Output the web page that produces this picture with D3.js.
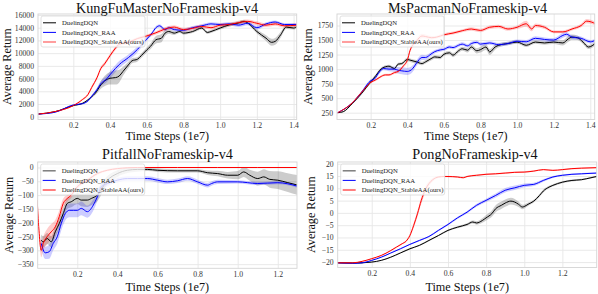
<!DOCTYPE html>
<html><head><meta charset="utf-8">
<script src="https://cdn.jsdelivr.net/npm/d3@7"></script>
<style>
body{margin:0;background:#fff;}
svg{display:block;}
text{font-family:"Liberation Serif","Times New Roman",serif;}
</style></head>
<body><svg id="c" width="598" height="294"></svg>
<script>
// ---------- DATA: each point is [time step (1e7), mean return, std] ----------
const seriesNames = ["DuelingDQN","DuelingDQN_RAA","DuelingDQN_StableAA(ours)"];
const xTicksTop = [0.2,0.4,0.6,0.8,1.0,1.2,1.4];
const xTicksBottom = [0.2,0.4,0.6,0.8,1.0,1.2];
const kungfuYTicks = [0,2000,4000,6000,8000,10000,12000,14000,16000];
const pacmanYTicks = [250,500,750,1000,1250,1500,1750];
const pitfallYTicks = [0,-50,-100,-150,-200,-250,-300,-350];
const pongYTicks = [20,15,10,5,0,-5,-10,-15,-20];

const kungfuDQN = [[0.01,420,40],[0.1,790,60],[0.2,1750,100],[0.25,2100,120],[0.3,3150,200],[0.32,3700,300],[0.35,5000,600],[0.37,5600,800],[0.4,6050,1000],[0.43,6150,1100],[0.45,6400,1000],[0.47,7100,700],[0.5,8150,500],[0.52,8800,400],[0.55,9050,350],[0.57,9600,350],[0.6,10500,400],[0.62,11050,450],[0.65,12100,600],[0.68,12350,650],[0.7,13150,500],[0.72,13400,350],[0.75,13150,300],[0.78,13400,250],[0.8,13150,250],[0.85,13400,250],[0.9,13950,250],[0.93,13250,250],[0.95,13400,250],[1.0,13950,250],[1.05,14450,250],[1.1,14750,250],[1.13,15000,250],[1.15,14750,250],[1.2,13400,300],[1.25,12350,450],[1.28,11700,550],[1.3,11850,550],[1.33,12900,450],[1.36,14100,300],[1.4,13950,250],[1.42,14200,250]];
const kungfuRAA = [[0.01,420,40],[0.1,700,60],[0.2,1850,100],[0.25,2050,120],[0.28,2500,150],[0.3,3200,200],[0.33,4300,300],[0.35,5200,400],[0.38,5900,500],[0.4,6600,550],[0.43,7600,550],[0.45,8200,550],[0.5,9300,500],[0.55,10600,450],[0.58,11600,350],[0.6,12200,300],[0.63,13200,250],[0.65,14000,250],[0.67,14300,250],[0.7,13700,250],[0.72,14000,250],[0.75,13700,250],[0.8,13600,250],[0.85,14000,250],[0.9,14300,250],[0.95,14600,250],[1.0,14500,250],[1.05,14600,250],[1.1,14400,300],[1.15,14700,300],[1.2,14000,300],[1.25,14600,250],[1.3,14900,250],[1.35,14500,250],[1.42,14500,250]];
const kungfuStable = [[0.01,420,40],[0.1,800,60],[0.2,1750,100],[0.25,2700,150],[0.28,3500,200],[0.3,4600,250],[0.33,6200,300],[0.35,7600,300],[0.37,8300,300],[0.4,9600,300],[0.43,10800,300],[0.45,11400,300],[0.5,11700,250],[0.55,12300,250],[0.6,12700,250],[0.65,13200,250],[0.7,13800,300],[0.75,14100,300],[0.8,13700,300],[0.85,13900,300],[0.9,14200,300],[0.95,14000,300],[1.0,14400,300],[1.05,14500,300],[1.1,14800,300],[1.15,15000,300],[1.2,14700,300],[1.25,14400,300],[1.3,14600,300],[1.35,14300,300],[1.42,14400,300]];

const pacmanDQN = [[0.02,250,5],[0.05,267,8],[0.1,410,15],[0.15,580,20],[0.2,780,25],[0.23,895,25],[0.25,980,25],[0.28,1040,25],[0.3,1050,25],[0.33,1010,25],[0.35,1085,25],[0.37,1095,25],[0.4,1165,30],[0.42,1150,30],[0.45,1125,30],[0.48,1095,30],[0.5,1125,30],[0.53,1180,30],[0.55,1210,30],[0.58,1200,30],[0.6,1255,30],[0.63,1280,30],[0.65,1240,35],[0.68,1315,35],[0.7,1350,35],[0.73,1325,40],[0.75,1380,40],[0.78,1315,45],[0.8,1335,50],[0.83,1380,50],[0.85,1295,50],[0.88,1380,45],[0.9,1410,35],[0.95,1440,30],[1.0,1465,30],[1.05,1410,30],[1.1,1465,30],[1.15,1450,30],[1.2,1465,35],[1.25,1450,45],[1.28,1520,50],[1.3,1550,45],[1.33,1540,40],[1.36,1465,35],[1.39,1380,35],[1.43,1450,30]];
const pacmanRAA = [[0.02,250,5],[0.1,420,15],[0.15,600,20],[0.2,800,25],[0.22,830,25],[0.25,960,30],[0.27,1010,30],[0.3,1000,35],[0.33,1000,45],[0.35,980,55],[0.37,970,60],[0.4,960,60],[0.43,1010,55],[0.45,1100,50],[0.48,1200,45],[0.5,1200,40],[0.53,1260,35],[0.55,1300,30],[0.58,1330,30],[0.6,1340,30],[0.63,1380,30],[0.65,1370,30],[0.68,1410,30],[0.7,1430,30],[0.73,1400,30],[0.75,1440,30],[0.78,1460,30],[0.8,1430,30],[0.85,1450,30],[0.9,1420,30],[0.95,1440,30],[1.0,1480,30],[1.05,1470,30],[1.1,1530,35],[1.15,1510,35],[1.2,1500,35],[1.25,1580,40],[1.27,1600,40],[1.3,1550,35],[1.35,1530,30],[1.4,1470,30],[1.43,1500,30]];
const pacmanStable = [[0.02,250,5],[0.1,420,15],[0.15,600,20],[0.2,770,20],[0.23,820,20],[0.25,860,20],[0.28,900,20],[0.3,900,20],[0.33,940,25],[0.35,960,25],[0.38,1060,25],[0.4,1150,30],[0.415,1320,35],[0.45,1480,40],[0.48,1570,40],[0.5,1560,35],[0.533,1540,30],[0.56,1550,25],[0.6,1590,25],[0.65,1620,25],[0.7,1660,25],[0.75,1690,30],[0.8,1665,30],[0.85,1720,30],[0.9,1735,30],[0.95,1690,30],[1.0,1720,30],[1.05,1780,50],[1.08,1690,40],[1.1,1750,35],[1.15,1720,30],[1.2,1640,25],[1.25,1640,25],[1.3,1690,25],[1.35,1750,30],[1.38,1825,35],[1.43,1780,30]];

const pitfallDQN = [[0.02,-263,20],[0.03,-269,20],[0.05,-257,20],[0.07,-269,20],[0.09,-233,20],[0.11,-203,20],[0.13,-167,20],[0.15,-130,20],[0.17,-124,20],[0.2,-112,20],[0.22,-118,22],[0.25,-118,25],[0.27,-112,25],[0.3,-100,22],[0.35,-46,15],[0.4,-22,12],[0.45,-10,10],[0.5,-7,8],[0.55,-7,6],[0.6,-10,6],[0.7,-12,6],[0.8,-12,6],[0.85,-19,8],[0.9,-22,10],[0.95,-28,12],[1.0,-28,15],[1.03,-16,18],[1.06,-28,20],[1.1,-40,25],[1.13,-34,28],[1.16,-43,30],[1.2,-46,32],[1.25,-55,34],[1.3,-64,36]];
const pitfallRAA = [[0.02,-275,20],[0.04,-309,22],[0.06,-305,25],[0.08,-275,25],[0.1,-251,25],[0.12,-203,25],[0.14,-167,25],[0.16,-155,25],[0.18,-155,25],[0.2,-155,25],[0.22,-148,25],[0.25,-160,22],[0.28,-136,20],[0.3,-106,15],[0.32,-70,12],[0.35,-58,10],[0.4,-46,8],[0.45,-40,8],[0.5,-40,8],[0.55,-40,8],[0.6,-46,8],[0.65,-52,8],[0.7,-48,8],[0.75,-40,8],[0.8,-52,8],[0.85,-64,8],[0.87,-58,8],[0.9,-52,8],[1.0,-52,6],[1.1,-58,6],[1.2,-55,6],[1.3,-68,6]];
const pitfallStable = [[0.0,-118,10],[0.01,-239,20],[0.02,-300,25],[0.03,-275,25],[0.05,-250,28],[0.07,-233,28],[0.09,-215,25],[0.11,-178,22],[0.13,-130,18],[0.15,-112,12],[0.17,-100,10],[0.2,-70,8],[0.25,-46,6],[0.3,-22,5],[0.35,-10,4],[0.4,-4,3],[0.45,-1,2],[0.5,0,1],[0.7,0,1],[0.9,0,1],[1.1,0,1],[1.3,0,1]];

const pongDQN = [[0.02,-20.3,0.2],[0.1,-20.4,0.2],[0.2,-20.0,0.2],[0.25,-19.3,0.2],[0.3,-18.0,0.2],[0.35,-16.3,0.25],[0.4,-14.6,0.3],[0.45,-13.2,0.3],[0.5,-11.2,0.3],[0.55,-9.2,0.3],[0.6,-7.1,0.35],[0.65,-5.8,0.4],[0.7,-4.7,0.5],[0.73,-3.7,0.6],[0.75,-4.1,0.7],[0.78,-3.1,0.9],[0.8,-2.0,1.1],[0.83,-0.3,1.3],[0.85,1.7,1.4],[0.88,3.1,1.5],[0.9,4.0,1.5],[0.93,4.8,1.4],[0.95,4.4,1.3],[0.97,3.5,1.1],[0.99,2.4,0.9],[1.0,2.6,0.8],[1.02,3.5,0.7],[1.05,4.8,0.6],[1.08,7.1,0.6],[1.1,8.9,0.6],[1.13,10.5,0.5],[1.15,11.2,0.5],[1.2,12.5,0.4],[1.25,13.2,0.4],[1.3,13.5,0.35],[1.35,14.3,0.3],[1.38,14.8,0.3]];
const pongRAA = [[0.02,-20.3,0.2],[0.1,-20.5,0.2],[0.15,-20.3,0.2],[0.2,-19.3,0.2],[0.25,-18.0,0.2],[0.3,-16.3,0.25],[0.35,-14.6,0.25],[0.4,-12.8,0.3],[0.45,-11.2,0.3],[0.5,-9.6,0.3],[0.55,-7.1,0.35],[0.6,-4.7,0.4],[0.65,-2.0,0.45],[0.7,0.3,0.5],[0.75,3.1,0.6],[0.8,5.1,0.7],[0.85,7.1,0.8],[0.9,9.2,0.9],[0.95,10.2,0.9],[1.0,11.2,0.8],[1.05,11.6,0.7],[1.1,13.2,0.5],[1.15,14.6,0.4],[1.2,15.3,0.3],[1.25,15.7,0.3],[1.3,15.9,0.3],[1.38,16.2,0.3]];
const pongStable = [[0.02,-20.3,0.2],[0.1,-20.3,0.2],[0.15,-19.7,0.2],[0.2,-18.6,0.2],[0.25,-17.3,0.2],[0.3,-15.3,0.25],[0.33,-13.9,0.3],[0.36,-12.5,0.3],[0.38,-11.5,0.4],[0.4,-9.2,0.6],[0.42,-5.1,1.0],[0.44,-0.3,1.3],[0.46,5.1,1.4],[0.48,9.2,1.3],[0.5,11.9,1.0],[0.52,13.5,0.7],[0.55,14.6,0.4],[0.58,14.8,0.3],[0.6,14.8,0.3],[0.65,14.6,0.3],[0.68,14.3,0.3],[0.7,14.8,0.3],[0.75,15.3,0.3],[0.8,15.7,0.3],[0.85,15.9,0.3],[0.9,16.2,0.3],[0.95,16.5,0.3],[1.0,16.6,0.3],[1.05,17.0,0.3],[1.1,17.6,0.3],[1.15,17.3,0.3],[1.2,17.6,0.3],[1.25,18.0,0.3],[1.3,18.2,0.3],[1.38,18.4,0.3]];

// ---------- LAYOUT ----------
const colors = ["#000000","#0000ff","#ff0000"];
const panels = [
  {title:"KungFuMasterNoFrameskip-v4", data:[kungfuDQN,kungfuRAA,kungfuStable], l:38, r:296.7, t:14, b:119.5,
   xd:[0.0076,1.417], yd:[-440,16157], yt:kungfuYTicks, xt:xTicksTop, tx:167, ty:12.6, xlOff:20.8, ylOff:26.8, legFade:2},
  {title:"MsPacmanNoFrameskip-v4", data:[pacmanDQN,pacmanRAA,pacmanStable], l:337, r:594.7, t:14, b:119.5,
   xd:[0.016,1.424], yd:[133,1948], yt:pacmanYTicks, xt:xTicksTop, tx:467.5, ty:12.6, xlOff:20.8, ylOff:25.5, legFade:2},
  {title:"PitfallNoFrameskip-v4", data:[pitfallDQN,pitfallRAA,pitfallStable], l:37.7, r:297, t:162, b:268.3,
   xd:[0.0025,1.2958], yd:[-365,19.9], yt:pitfallYTicks, xt:xTicksBottom, tx:167.5, ty:159, xlOff:22.3, ylOff:25, legFade:0},
  {title:"PongNoFrameskip-v4", data:[pongDQN,pongRAA,pongStable], l:337.7, r:596.7, t:162, b:267.5,
   xd:[0.0215,1.380], yd:[-22.2,20.7], yt:pongYTicks, xt:xTicksBottom, tx:475, ty:159, xlOff:23, ylOff:23, legFade:0}
];

const svg = d3.select("#c");
const fmtTick = v => (v<0 ? "\u2212"+Math.abs(v) : String(v));

panels.forEach((p,i)=>{
  const x = d3.scaleLinear().domain(p.xd).range([p.l,p.r]);
  const y = d3.scaleLinear().domain(p.yd).range([p.b,p.t]);
  const g = svg.append("g");
  const cid = "clip"+i;
  g.append("clipPath").attr("id",cid).append("rect")
    .attr("x",p.l).attr("y",p.t).attr("width",p.r-p.l).attr("height",p.b-p.t);

  // grid + ticks
  const xa = d3.axisBottom(x).tickValues(p.xt).tickSize(-(p.b-p.t)).tickFormat(d3.format(".1f")).tickPadding(3.5);
  const ya = d3.axisLeft(y).tickValues(p.yt).tickSize(-(p.r-p.l)).tickFormat(fmtTick).tickPadding(4);
  const gx = g.append("g").attr("transform",`translate(0,${p.b})`).call(xa);
  const gy = g.append("g").attr("transform",`translate(${p.l},0)`).call(ya);
  [gx,gy].forEach(a=>{
    a.select(".domain").remove();
    a.selectAll(".tick line").attr("stroke","#e6e6e6").attr("stroke-width",0.9);
    a.selectAll(".tick text").attr("fill","#333").style("font-size","7.7px")
      .style("font-family","'Liberation Serif',serif");
  });

  // bands and lines
  const plot = g.append("g").attr("clip-path",`url(#${cid})`);
  p.data.forEach((s,k)=>{
    const area = d3.area().x(d=>x(d[0])).y0(d=>y(d[1]-d[2])).y1(d=>y(d[1]+d[2])).curve(d3.curveMonotoneX);
    plot.append("path").datum(s).attr("d",area).attr("fill",colors[k]).attr("fill-opacity",0.2);
  });
  p.data.forEach((s,k)=>{
    const line = d3.line().x(d=>x(d[0])).y(d=>y(d[1])).curve(d3.curveMonotoneX);
    plot.append("path").datum(s).attr("d",line).attr("fill","none").attr("stroke",colors[k]).attr("stroke-width",1);
  });

  // frame
  g.append("rect").attr("x",p.l).attr("y",p.t).attr("width",p.r-p.l).attr("height",p.b-p.t)
    .attr("fill","none").attr("stroke","#d4d4d4").attr("stroke-width",0.9);

  // legend
  const lg = g.append("g").attr("transform",`translate(${p.l+3},${p.t+2})`);
  lg.append("rect").attr("width",104).attr("height",31).attr("rx",2)
    .attr("fill","#fff").attr("fill-opacity",0.8).attr("stroke","#d8d8d8").attr("stroke-width",0.8);
  seriesNames.forEach((nm,k)=>{
    const yy = 6.8 + k*9.6;
    const faded = (k===p.legFade);
    lg.append("line").attr("x1",2).attr("x2",15).attr("y1",yy).attr("y2",yy)
      .attr("stroke",colors[k]).attr("stroke-width",faded?1.4:1).attr("stroke-opacity",faded?0.55:1);
    lg.append("text").attr("x",21).attr("y",yy+2.3).text(nm).style("font-size","6.7px").attr("fill","#222");
  });

  // title & labels
  g.append("text").attr("x",p.tx).attr("y",p.ty).attr("text-anchor","middle")
    .style("font-size","14.2px").attr("fill","#111").text(p.title);
  g.append("text").attr("x",(p.l+p.r)/2).attr("y",p.b+p.xlOff).attr("text-anchor","middle")
    .style("font-size","12.2px").attr("fill","#111").text("Time Steps (1e7)");
  g.append("text").attr("transform",`translate(${p.l-p.ylOff},${(p.t+p.b)/2}) rotate(-90)`).attr("text-anchor","middle")
    .style("font-size","12.2px").attr("fill","#111").text("Average Return");
});
</script></body></html>
